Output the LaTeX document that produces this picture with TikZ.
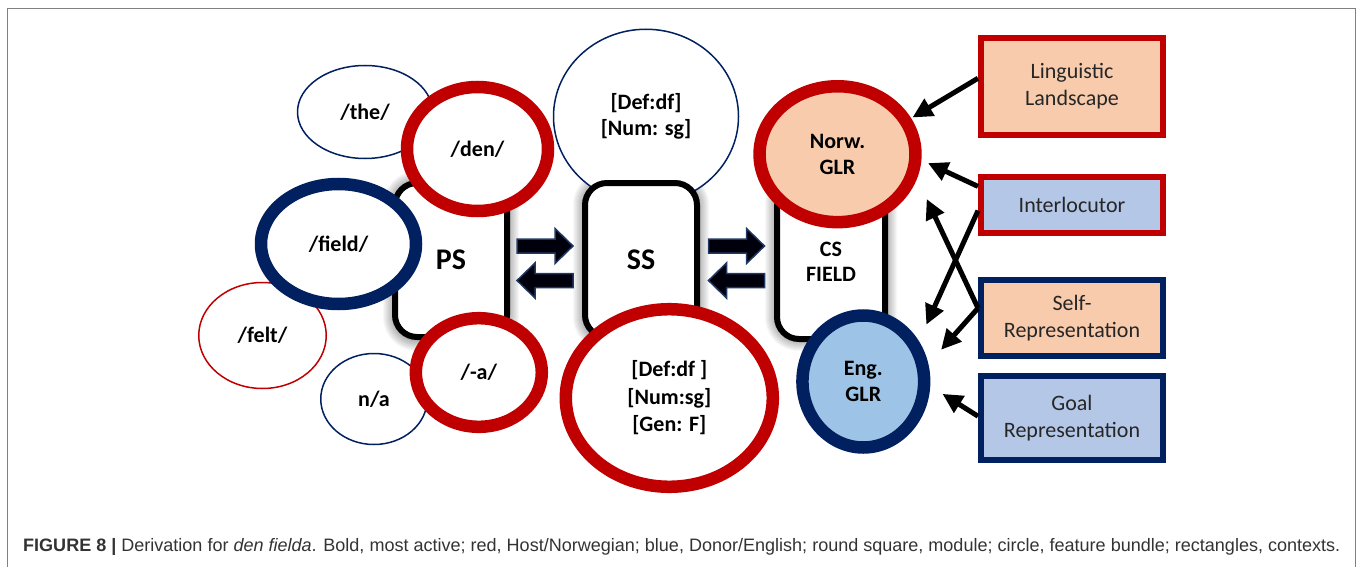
\documentclass[tikz,border=0pt]{standalone}
\usepackage{graphicx}
\usepackage{fontspec}
\setmainfont{Carlito}
\newfontfamily\capfont{Liberation Sans}
\usetikzlibrary{shapes.geometric,arrows.meta,calc}

\definecolor{hostred}{RGB}{192,0,0}
\definecolor{donorblue}{RGB}{0,32,96}
\definecolor{peach}{RGB}{248,203,173}
\definecolor{paleblue}{RGB}{180,199,231}
\definecolor{engblue}{RGB}{157,195,230}
\definecolor{framegray}{RGB}{128,128,128}
\definecolor{arrownavy}{RGB}{31,56,100}
\definecolor{captext}{RGB}{51,51,51}

\tikzset{
  bundle/.style={ellipse, inner sep=0pt, fill=white,
    font=\fontsize{22}{26}\selectfont\bfseries, align=center},
  faint/.style={bundle, line width=1.5pt},
  strong/.style={bundle, line width=12.5pt},
  module/.style={draw=black, line width=6pt, fill=white, rounded corners=22pt,
    inner sep=0pt, font=\fontsize{30}{34}\selectfont\bfseries, align=center},
  context/.style={rectangle, line width=6pt, inner sep=0pt, minimum width=182pt,
    font=\fontsize{22}{27}\selectfont, text=black!85, align=center},
  push/.style={line width=5pt, -{Triangle[length=20pt,width=19pt]}},
  blockarrow/.style={fill=black!95!blue, draw=arrownavy, line width=1.5pt, line join=miter},
  pics/rblock/.style={code={
    \draw[blockarrow] (-28,-7) -- (10,-7) -- (10,-17.5) -- (28,0) -- (10,17.5) -- (10,7) -- (-28,7) -- cycle;}},
  pics/lblock/.style={code={
    \draw[blockarrow] (28,-7) -- (-10,-7) -- (-10,-17.5) -- (-28,0) -- (-10,17.5) -- (-10,7) -- (28,7) -- cycle;}},
}

\begin{document}
\begin{tikzpicture}[x=1pt,y=-1pt]
\useasboundingbox (0,0) rectangle (1357,567);

% frame and caption
\draw[framegray, line width=1.5pt] (7.5,567) -- (7.5,8.5) -- (1355.5,8.5) -- (1355.5,567);
\node[anchor=base west, inner sep=0pt, text=captext] (caption) at (23,551)
  {\capfont\fontsize{18}{20}\selectfont\resizebox{1317pt}{\height}{\textbf{FIGURE 8 |} Derivation for \textit{den fielda}. Bold, most active; red, Host/Norwegian; blue, Donor/English; round square, module; circle, feature bundle; rectangles, contexts.}};

% soft shadows behind the modules
\foreach \cx/\w in {451/112, 641/112, 831/108}{
  \foreach \s in {1,...,12}{
    \fill[black, opacity=0.03, rounded corners={22pt+\s*1pt}]
      (\cx-\w/2-\s, 339+\s) rectangle (\cx+\w/2+\s, 183-\s);
  }
}

% weakly active feature bundles
\node[faint, draw=donorblue, minimum width=135pt, minimum height=93pt] (the) at (365,112) {/the/};
\node[faint, draw=hostred, minimum width=127.5pt, minimum height=106pt] (felt) at (262.5,335.5) {/felt/};
\node[faint, draw=donorblue, minimum width=106.5pt, minimum height=91pt] (na) at (374,399) {n/a};
\node[faint, draw=donorblue, minimum width=185pt, minimum height=174.5pt] (defnum) at (646,116.5) {{[Def:df]}\\{[Num: sg]}};

% modules
\node[module, minimum width=112pt, minimum height=154pt] (ps) at (451,260) {PS};
\node[module, minimum width=112pt, minimum height=154pt] (ss) at (641,260) {SS};
\node[module, minimum width=108pt, minimum height=154pt, font=\fontsize{22}{25}\selectfont\bfseries] (cs) at (831,262) {CS\\FIELD};

% strongly active feature bundles
\node[strong, draw=hostred, minimum width=141pt, minimum height=124pt] (den) at (477.5,149) {/den/};
\node[strong, draw=donorblue, minimum width=155pt, minimum height=120pt] (field) at (338.5,244) {/field/};
\node[strong, draw=hostred, minimum width=126pt, minimum height=108.6pt] (suffix) at (478.8,372.5) {/-a/};
\node[strong, draw=hostred, minimum width=207pt, minimum height=177.6pt, font=\fontsize{22}{27.5}\selectfont\bfseries] (defnumgen) at (669.3,398) {{[Def:df ]}\\{[Num:sg]}\\{[Gen: F]}};
\node[strong, draw=hostred, fill=peach, minimum width=155.9pt, minimum height=135.9pt] (norw) at (837.5,154.2) {Norw.\\GLR};
\node[strong, draw=donorblue, fill=engblue, minimum width=121.7pt, minimum height=132pt] (eng) at (863.3,381.5) {Eng.\\GLR};

% interface arrows between modules
\pic at (545,246) {rblock};
\pic at (545,280.5) {lblock};
\pic at (736.5,246) {rblock};
\pic at (736.5,280.5) {lblock};

% contexts
\node[context, draw=hostred, fill=peach, minimum height=97pt] (ll) at (1072,86.5) {Linguistic\\Landscape};
\node[context, draw=hostred, fill=paleblue, minimum height=56pt] (inter) at (1072,205) {Interlocutor};
\node[context, draw=donorblue, fill=peach, minimum height=76pt] (selfrep) at (1072,318) {Self-\\Representation};
\node[context, draw=donorblue, fill=paleblue, minimum height=84pt] (goal) at (1072,418) {Goal\\Representation};

% context influences
\draw[push, shorten >=1.5pt] ($(ll.north west)!0.42!(ll.south west)$) -- (norw.26.3);
\draw[push, shorten >=7.2pt] ($(inter.north west)!0.2!(inter.south west)$) -- (norw.-4.6);
\draw[push, shorten >=18pt] ($(inter.north west)!0.59!(inter.south west)$) -- (eng.36.4);
\draw[push, shorten >=22.6pt] ($(selfrep.north west)!0.38!(selfrep.south west)$) -- (norw.-17.1);
\draw[push, shorten >=19pt] ($(selfrep.north west)!0.38!(selfrep.south west)$) -- (eng.15.8);
\draw[push, shorten >=14.4pt] ($(goal.north west)!0.48!(goal.south west)$) -- (eng.-4.7);
\end{tikzpicture}
\end{document}
